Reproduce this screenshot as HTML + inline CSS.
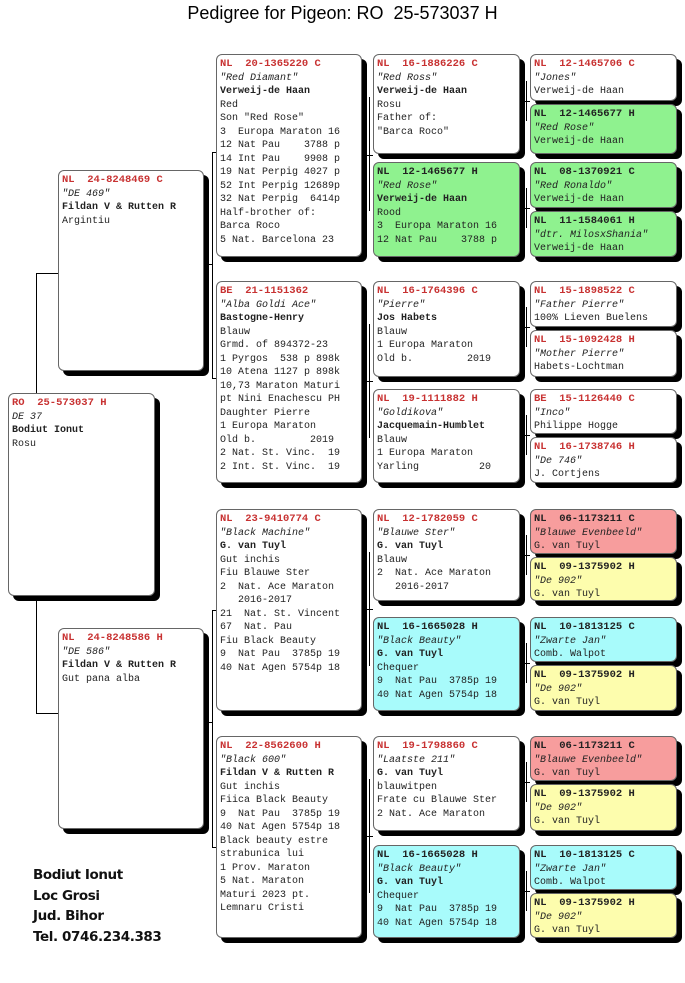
<!DOCTYPE html>
<html><head><meta charset="utf-8">
<style>
body{margin:0;width:685px;height:983px;background:#fff;position:relative;overflow:hidden;font-family:"Liberation Mono",monospace;}
.t{position:absolute;left:0;width:685px;top:3px;text-align:center;font:18px "Liberation Sans",sans-serif;color:#000;}
.b{position:absolute;box-sizing:border-box;border:1px solid #666;border-radius:6px;box-shadow:5px 5px 0 #000;background:#fff;padding:3px 0 0 3px;font-size:10px;line-height:13.5px;white-space:pre;color:#222;overflow:hidden;}
.b .r{color:#c83232;font-weight:bold;font-size:10.5px;}
.b .k{color:#222;font-weight:bold;font-size:10.5px;}
.b i{display:block;}
.b .o{font-weight:bold;}
.g{background:#8ff28f}.p{background:#f79d9d}.y{background:#fdfdad}.c{background:#a8fbfb}
.l{position:absolute;background:#000;}
.v{width:1px}.h{height:1px}
.f{position:absolute;left:33px;top:865px;font:bold 13.5px "DejaVu Sans",sans-serif;letter-spacing:-0.4px;line-height:20.5px;color:#111;}
</style></head><body>
<div class="t">Pedigree for Pigeon: RO&nbsp; 25-573037 H</div>

<div class="l v" style="left:36px;top:273px;height:441px"></div>
<div class="l h" style="left:36px;top:273px;width:22px"></div>
<div class="l h" style="left:36px;top:713px;width:22px"></div>

<div class="l v" style="left:212px;top:152px;height:227px"></div>
<div class="l h" style="left:212px;top:152px;width:5px"></div>
<div class="l h" style="left:212px;top:378px;width:5px"></div>
<div class="l h" style="left:206px;top:264px;width:7px"></div>
<div class="l v" style="left:212px;top:610px;height:238px"></div>
<div class="l h" style="left:212px;top:610px;width:5px"></div>
<div class="l h" style="left:212px;top:847px;width:5px"></div>
<div class="l h" style="left:206px;top:722px;width:7px"></div>

<div class="l v" style="left:369px;top:97px;height:114px"></div>
<div class="l h" style="left:364px;top:155px;width:9px"></div>
<div class="l v" style="left:369px;top:324px;height:114px"></div>
<div class="l h" style="left:364px;top:381px;width:9px"></div>
<div class="l v" style="left:369px;top:552px;height:114px"></div>
<div class="l h" style="left:364px;top:609px;width:9px"></div>
<div class="l v" style="left:369px;top:779px;height:114px"></div>
<div class="l h" style="left:364px;top:836px;width:9px"></div>

<div class="l v" style="left:526px;top:81px;height:40px"></div>
<div class="l h" style="left:522px;top:101px;width:8px"></div>
<div class="l v" style="left:526px;top:188px;height:40px"></div>
<div class="l h" style="left:522px;top:208px;width:8px"></div>
<div class="l v" style="left:526px;top:307px;height:40px"></div>
<div class="l h" style="left:522px;top:327px;width:8px"></div>
<div class="l v" style="left:526px;top:415px;height:40px"></div>
<div class="l h" style="left:522px;top:435px;width:8px"></div>
<div class="l v" style="left:526px;top:535px;height:40px"></div>
<div class="l h" style="left:522px;top:555px;width:8px"></div>
<div class="l v" style="left:526px;top:643px;height:40px"></div>
<div class="l h" style="left:522px;top:663px;width:8px"></div>
<div class="l v" style="left:526px;top:762px;height:40px"></div>
<div class="l h" style="left:522px;top:782px;width:8px"></div>
<div class="l v" style="left:526px;top:871px;height:40px"></div>
<div class="l h" style="left:522px;top:891px;width:8px"></div>

<div class="b" style="left:8px;top:393px;width:147px;height:203px"><span class="r">RO  25-573037 H</span>
<i>DE 37</i><span class="o">Bodiut Ionut</span>
Rosu</div>

<div class="b" style="left:58px;top:170px;width:146px;height:201px"><span class="r">NL  24-8248469 C</span>
<i>"DE 469"</i><span class="o">Fildan V &amp; Rutten R</span>
Argintiu</div>
<div class="b" style="left:58px;top:628px;width:146px;height:201px"><span class="r">NL  24-8248586 H</span>
<i>"DE 586"</i><span class="o">Fildan V &amp; Rutten R</span>
Gut pana alba</div>

<div class="b" style="left:216px;top:54px;width:146px;height:203px"><span class="r">NL  20-1365220 C</span>
<i>"Red Diamant"</i><span class="o">Verweij-de Haan</span>
Red
Son "Red Rose"
3  Europa Maraton 16
12 Nat Pau    3788 p
14 Int Pau    9908 p
19 Nat Perpig 4027 p
52 Int Perpig 12689p
32 Nat Perpig  6414p
Half-brother of:
Barca Roco
5 Nat. Barcelona 23</div>
<div class="b" style="left:216px;top:281px;width:146px;height:202px"><span class="r">BE  21-1151362</span>
<i>"Alba Goldi Ace"</i><span class="o">Bastogne-Henry</span>
Blauw
Grmd. of 894372-23
1 Pyrgos  538 p 898k
10 Atena 1127 p 898k
10,73 Maraton Maturi
pt Nini Enachescu PH
Daughter Pierre
1 Europa Maraton
Old b.         2019
2 Nat. St. Vinc.  19
2 Int. St. Vinc.  19</div>
<div class="b" style="left:216px;top:509px;width:146px;height:202px"><span class="r">NL  23-9410774 C</span>
<i>"Black Machine"</i><span class="o">G. van Tuyl</span>
Gut inchis
Fiu Blauwe Ster
2  Nat. Ace Maraton
   2016-2017
21  Nat. St. Vincent
67  Nat. Pau
Fiu Black Beauty
9  Nat Pau  3785p 19
40 Nat Agen 5754p 18</div>
<div class="b" style="left:216px;top:736px;width:146px;height:202px"><span class="r">NL  22-8562600 H</span>
<i>"Black 600"</i><span class="o">Fildan V &amp; Rutten R</span>
Gut inchis
Fiica Black Beauty
9  Nat Pau  3785p 19
40 Nat Agen 5754p 18
Black beauty estre
strabunica lui
1 Prov. Maraton
5 Nat. Maraton
Maturi 2023 pt.
Lemnaru Cristi</div>

<div class="b" style="left:373px;top:54px;width:147px;height:100px"><span class="r">NL  16-1886226 C</span>
<i>"Red Ross"</i><span class="o">Verweij-de Haan</span>
Rosu
Father of:
"Barca Roco"</div>
<div class="b g" style="left:373px;top:162px;width:147px;height:95px"><span class="k">NL  12-1465677 H</span>
<i>"Red Rose"</i><span class="o">Verweij-de Haan</span>
Rood
3  Europa Maraton 16
12 Nat Pau    3788 p</div>
<div class="b" style="left:373px;top:281px;width:147px;height:96px"><span class="r">NL  16-1764396 C</span>
<i>"Pierre"</i><span class="o">Jos Habets</span>
Blauw
1 Europa Maraton
Old b.         2019</div>
<div class="b" style="left:373px;top:389px;width:147px;height:94px"><span class="r">NL  19-1111882 H</span>
<i>"Goldikova"</i><span class="o">Jacquemain-Humblet</span>
Blauw
1 Europa Maraton
Yarling          20</div>
<div class="b" style="left:373px;top:509px;width:147px;height:92px"><span class="r">NL  12-1782059 C</span>
<i>"Blauwe Ster"</i><span class="o">G. van Tuyl</span>
Blauw
2  Nat. Ace Maraton
   2016-2017</div>
<div class="b c" style="left:373px;top:617px;width:147px;height:94px"><span class="k">NL  16-1665028 H</span>
<i>"Black Beauty"</i><span class="o">G. van Tuyl</span>
Chequer
9  Nat Pau  3785p 19
40 Nat Agen 5754p 18</div>
<div class="b" style="left:373px;top:736px;width:147px;height:95px"><span class="r">NL  19-1798860 C</span>
<i>"Laatste 211"</i><span class="o">G. van Tuyl</span>
blauwitpen
Frate cu Blauwe Ster
2 Nat. Ace Maraton</div>
<div class="b c" style="left:373px;top:845px;width:147px;height:93px"><span class="k">NL  16-1665028 H</span>
<i>"Black Beauty"</i><span class="o">G. van Tuyl</span>
Chequer
9  Nat Pau  3785p 19
40 Nat Agen 5754p 18</div>

<div class="b" style="left:530px;top:54px;width:147px;height:47px"><span class="r">NL  12-1465706 C</span>
<i>"Jones"</i>Verweij-de Haan</div>
<div class="b g" style="left:530px;top:104px;width:147px;height:50px"><span class="k">NL  12-1465677 H</span>
<i>"Red Rose"</i>Verweij-de Haan</div>
<div class="b g" style="left:530px;top:162px;width:147px;height:46px"><span class="k">NL  08-1370921 C</span>
<i>"Red Ronaldo"</i>Verweij-de Haan</div>
<div class="b g" style="left:530px;top:211px;width:147px;height:46px"><span class="k">NL  11-1584061 H</span>
<i>"dtr. MilosxShania"</i>Verweij-de Haan</div>
<div class="b" style="left:530px;top:281px;width:147px;height:46px"><span class="r">NL  15-1898522 C</span>
<i>"Father Pierre"</i>100% Lieven Buelens</div>
<div class="b" style="left:530px;top:330px;width:147px;height:47px"><span class="r">NL  15-1092428 H</span>
<i>"Mother Pierre"</i>Habets-Lochtman</div>
<div class="b" style="left:530px;top:389px;width:147px;height:45px"><span class="r">BE  15-1126440 C</span>
<i>"Inco"</i>Philippe Hogge</div>
<div class="b" style="left:530px;top:437px;width:147px;height:46px"><span class="r">NL  16-1738746 H</span>
<i>"De 746"</i>J. Cortjens</div>
<div class="b p" style="left:530px;top:509px;width:147px;height:45px"><span class="k">NL  06-1173211 C</span>
<i>"Blauwe Evenbeeld"</i>G. van Tuyl</div>
<div class="b y" style="left:530px;top:557px;width:147px;height:44px"><span class="k">NL  09-1375902 H</span>
<i>"De 902"</i>G. van Tuyl</div>
<div class="b c" style="left:530px;top:617px;width:147px;height:45px"><span class="k">NL  10-1813125 C</span>
<i>"Zwarte Jan"</i>Comb. Walpot</div>
<div class="b y" style="left:530px;top:665px;width:147px;height:46px"><span class="k">NL  09-1375902 H</span>
<i>"De 902"</i>G. van Tuyl</div>
<div class="b p" style="left:530px;top:736px;width:147px;height:45px"><span class="k">NL  06-1173211 C</span>
<i>"Blauwe Evenbeeld"</i>G. van Tuyl</div>
<div class="b y" style="left:530px;top:784px;width:147px;height:47px"><span class="k">NL  09-1375902 H</span>
<i>"De 902"</i>G. van Tuyl</div>
<div class="b c" style="left:530px;top:845px;width:147px;height:45px"><span class="k">NL  10-1813125 C</span>
<i>"Zwarte Jan"</i>Comb. Walpot</div>
<div class="b y" style="left:530px;top:893px;width:147px;height:45px"><span class="k">NL  09-1375902 H</span>
<i>"De 902"</i>G. van Tuyl</div>

<div class="f">Bodiut Ionut<br>Loc Grosi<br>Jud. Bihor<br>Tel. 0746.234.383</div>
</body></html>
